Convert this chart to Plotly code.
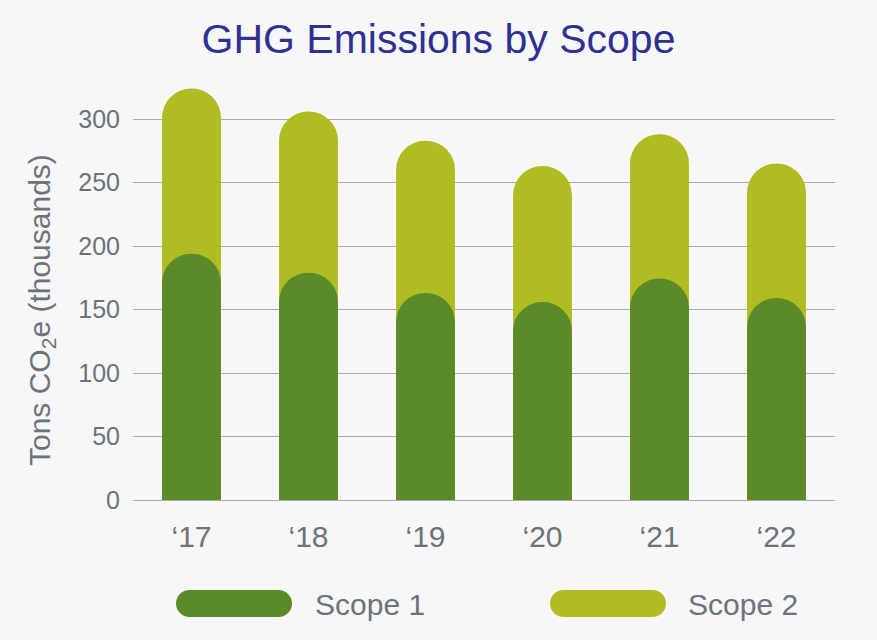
import plotly.graph_objects as go

years = ["\u201817", "\u201818", "\u201819", "\u201820", "\u201821", "\u201822"]
scope1 = [194, 179, 163, 156, 174.5, 159]
scope2 = [130, 127, 120, 107, 113.5, 106]
y_ticks = [0, 50, 100, 150, 200, 250, 300]

total = [a + b for a, b in zip(scope1, scope2)]

C1 = "#5b8a28"
C2 = "#b0bd22"
GRAY = "#6b737d"
FONT = "Liberation Sans"

fig = go.Figure()
fig.add_trace(go.Bar(x=years, y=total, name="Scope 2", xaxis="x",
                     marker=dict(color=C2, cornerradius="50%", line=dict(width=0)), width=0.503))
fig.add_trace(go.Bar(x=years, y=scope1, name="Scope 1", xaxis="x2",
                     marker=dict(color=C1, cornerradius="50%", line=dict(width=0)), width=0.503))

W, H = 877, 640
L, R, T, B = 133, 42, 81, 140
pw, ph = W - L - R, H - T - B

def px_x(px):
    return (px - L) / pw

def px_y(py):
    return (H - B - py) / ph

shapes = []
annotations = []
legend_items = [("Scope 1", C1, 176, 292, 315), ("Scope 2", C2, 550, 666, 688)]
for label, col, x0, x1, tx in legend_items:
    cy = 603.5
    r = 13.5
    shapes.append(dict(type="rect", xref="paper", yref="paper", xsizemode="pixel", ysizemode="pixel",
                       xanchor=px_x(x0), yanchor=px_y(cy), x0=r, x1=(x1 - x0) - r, y0=-r, y1=r,
                       fillcolor=col, line=dict(width=0), layer="above"))
    for cx in (x0 + r, x1 - r):
        shapes.append(dict(type="circle", xref="paper", yref="paper", xsizemode="pixel", ysizemode="pixel",
                           xanchor=px_x(cx), yanchor=px_y(cy), x0=-r, x1=r, y0=-r, y1=r,
                           fillcolor=col, line=dict(width=0), layer="above"))
    annotations.append(dict(text=label, xref="paper", yref="paper", x=px_x(tx - 2), y=px_y(604),
                            xanchor="left", yanchor="middle", showarrow=False,
                            font=dict(family=FONT, size=30, color=GRAY)))

annotations.append(dict(text="Tons CO<sub>2</sub>e (thousands)", xref="paper", yref="paper",
                        x=px_x(41), y=px_y(310), xanchor="center", yanchor="middle",
                        textangle=-90, showarrow=False,
                        font=dict(family=FONT, size=30, color=GRAY)))

fig.update_layout(
    width=W, height=H,
    margin=dict(l=L, r=R, t=T, b=B, pad=0),
    paper_bgcolor="#f7f7f7", plot_bgcolor="#f7f7f7",
    barmode="overlay", showlegend=False,
    title=dict(text="GHG Emissions by Scope", x=438.5 / W, xref="container", xanchor="center",
               y=1 - 39 / H, yanchor="middle", yref="container",
               font=dict(family=FONT, size=41, color="#2e3192")),
    font=dict(family=FONT, color=GRAY),
    xaxis=dict(range=[-0.5, 5.5], showgrid=False, showline=False, zeroline=False, ticks="",
               tickfont=dict(size=30, color=GRAY), ticklabelstandoff=16),
    xaxis2=dict(range=[-0.5, 5.5], overlaying="x", matches="x", visible=False),
    yaxis=dict(range=[0, 330], tickvals=y_ticks, showgrid=True, gridcolor="#ababab", gridwidth=1,
               zeroline=True, zerolinecolor="#ababab", zerolinewidth=1, showline=False,
               ticks="", tickfont=dict(size=25, color=GRAY), ticklabelstandoff=12),
    shapes=shapes,
    annotations=annotations,
)

fig.write_html("out.html")
